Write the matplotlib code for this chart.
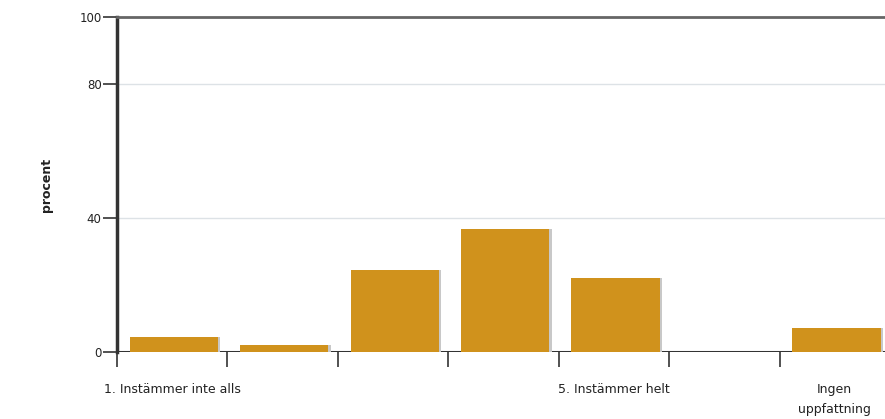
import matplotlib
matplotlib.use("Agg")
import matplotlib.pyplot as plt

# --- DATA ---
kategorier = ["1. Instämmer inte alls", "", "", "", "5. Instämmer helt", "", "Ingen\nuppfattning"]
procent = [4.6, 2.1, 24.6, 36.7, 22.0, 0.0, 7.3]
y_ticks = [0, 40, 80, 100]

COR_BARRA = "#D0921C"
COR_SOMBRA = "#C8C8C8"
COR_EIXO = "#333333"

fig = plt.figure(figsize=(8.85, 4.19), dpi=100)
# eixo passa da borda direita, como no original
ax = fig.add_axes([117 / 885, (419 - 352) / 419, 773 / 885, 335 / 419])

x = list(range(len(procent)))
desloc = 0.015  # barras um pouco à direita do centro

# linha do zero e grade
ax.axhline(0, color=COR_EIXO, lw=2.2, zorder=1)
for v in [40, 80]:
    ax.axhline(v, color="#DDE2E6", lw=1, zorder=0)

# sombra + barras
ax.bar([i + desloc + 0.02 for i in x], procent, width=0.8, color=COR_SOMBRA, zorder=2)
ax.bar([i + desloc for i in x], procent, width=0.8, color=COR_BARRA, zorder=3)

ax.set_xlim(-0.5, len(procent) - 0.5)
ax.set_ylim(0, 100)

# ticks do eixo x nas divisas, rótulos no centro
ax.set_xticks([i - 0.5 for i in x])
ax.set_xticklabels([])
ax.set_xticks(x, minor=True)
ax.set_xticklabels(kategorier, minor=True, fontsize=9, color="#222222", linespacing=1.75)
ax.tick_params(axis="x", which="major", length=11, width=1.2, color=COR_EIXO, direction="out")
ax.tick_params(axis="x", which="minor", length=0, pad=22)

ax.set_yticks(y_ticks)
ax.tick_params(axis="y", length=10, width=1.2, color=COR_EIXO, labelsize=8.5,
               labelcolor="#222222", pad=1)

for lado in ["right", "bottom"]:
    ax.spines[lado].set_visible(False)
ax.spines["left"].set_color(COR_EIXO)
ax.spines["left"].set_linewidth(2.5)
ax.spines["top"].set_color("#666666")
ax.spines["top"].set_linewidth(2)

ax.set_ylabel("procent", fontsize=9, fontweight="bold", color="#222222", labelpad=19)

fig.savefig("out.png", dpi=100)
